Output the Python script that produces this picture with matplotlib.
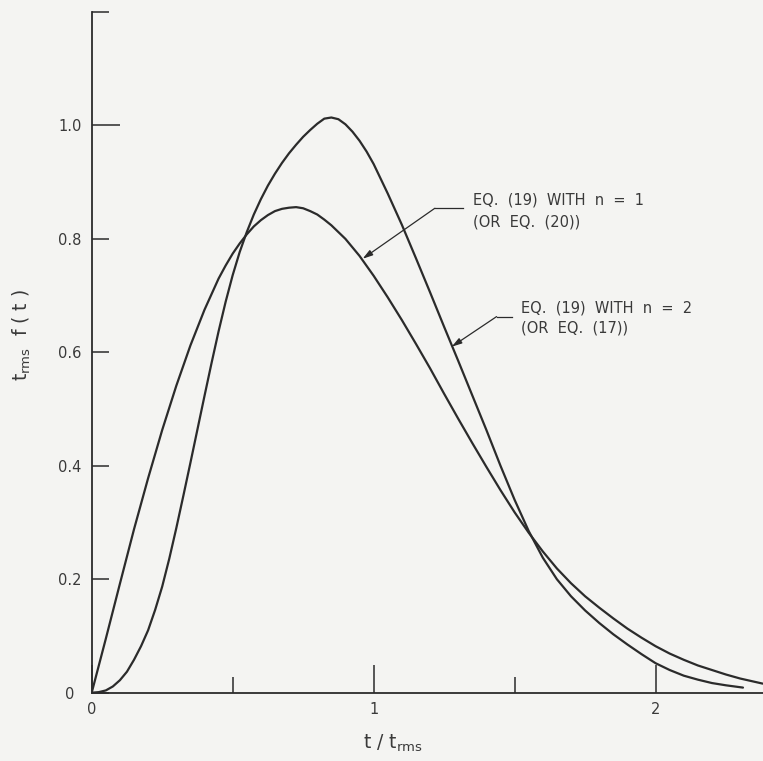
import matplotlib.pyplot as plt

# curve for Eq. (19) with n = 1 (or Eq. (20))
t_n1 = [0, 0.05, 0.1, 0.15, 0.2, 0.25, 0.3, 0.35, 0.4, 0.45, 0.475, 0.5,
        0.525, 0.55, 0.575, 0.6, 0.625, 0.65, 0.675, 0.7, 0.725, 0.75, 0.775,
        0.8, 0.825, 0.85, 0.9, 0.95, 1.0, 1.05, 1.1, 1.15, 1.2, 1.25, 1.3,
        1.35, 1.4, 1.45, 1.5, 1.55, 1.6, 1.65, 1.7, 1.75, 1.8, 1.85, 1.9,
        1.95, 2.0, 2.05, 2.1, 2.15, 2.2, 2.25, 2.3, 2.38]
f_n1 = [0, 0.095, 0.192, 0.288, 0.378, 0.463, 0.541, 0.612, 0.675, 0.730,
        0.753, 0.774, 0.792, 0.808, 0.822, 0.833, 0.842, 0.849, 0.853, 0.855,
        0.856, 0.854, 0.849, 0.843, 0.834, 0.824, 0.800, 0.770, 0.735, 0.697,
        0.657, 0.615, 0.572, 0.527, 0.483, 0.440, 0.398, 0.357, 0.318, 0.282,
        0.249, 0.219, 0.193, 0.170, 0.150, 0.131, 0.113, 0.097, 0.082, 0.069,
        0.058, 0.048, 0.040, 0.032, 0.025, 0.016]

# curve for Eq. (19) with n = 2 (or Eq. (17))
t_n2 = [0, 0.025, 0.05, 0.075, 0.1, 0.125, 0.15, 0.175, 0.2, 0.225, 0.25,
        0.275, 0.3, 0.325, 0.35, 0.375, 0.4, 0.425, 0.45, 0.475, 0.5, 0.525,
        0.55, 0.575, 0.6, 0.625, 0.65, 0.675, 0.7, 0.725, 0.75, 0.775, 0.8,
        0.825, 0.85, 0.875, 0.9, 0.925, 0.95, 0.975, 1.0, 1.05, 1.1, 1.15,
        1.2, 1.25, 1.3, 1.35, 1.4, 1.45, 1.5, 1.55, 1.6, 1.65, 1.7, 1.75,
        1.8, 1.85, 1.9, 1.95, 2.0, 2.05, 2.1, 2.15, 2.2, 2.25, 2.31]
f_n2 = [0, 0.001, 0.004, 0.011, 0.022, 0.037, 0.058, 0.082, 0.110, 0.146,
        0.187, 0.236, 0.290, 0.347, 0.405, 0.464, 0.523, 0.581, 0.637, 0.689,
        0.736, 0.777, 0.812, 0.843, 0.870, 0.894, 0.915, 0.934, 0.951, 0.966,
        0.980, 0.992, 1.003, 1.012, 1.014, 1.011, 1.002, 0.989, 0.973, 0.954,
        0.932, 0.880, 0.825, 0.766, 0.706, 0.645, 0.585, 0.524, 0.463, 0.400,
        0.340, 0.285, 0.238, 0.200, 0.170, 0.145, 0.123, 0.103, 0.085, 0.068,
        0.052, 0.040, 0.030, 0.023, 0.017, 0.013, 0.009]

x_ticks = [0, 1, 2]
x_labels = ['0', '1', '2']
x_minor = [0.5, 1.5]
y_ticks = [0, 0.2, 0.4, 0.6, 0.8, 1.0, 1.2]
y_labels = ['0', '0.2', '0.4', '0.6', '0.8', '1.0', '']

label_n1 = ['EQ.  (19)  WITH  n  =  1', '(OR  EQ.  (20))']
label_n2 = ['EQ.  (19)  WITH  n  =  2', '(OR  EQ.  (17))']

bg = '#f4f4f2'
ink = '#2b2b2b'
txt = '#3a3a3a'

plt.rcParams['font.family'] = ['DejaVu Sans']

W, H = 763, 761
x0, y0 = 91.7, 692.7  # axes origin in pixels
fig = plt.figure(figsize=(W / 100, H / 100), dpi=100, facecolor=bg)
ax = fig.add_axes([x0 / W, (H - y0) / H, (W - x0) / W, (y0 - 12) / H])
ax.set_facecolor(bg)
ax.set_xlim(0, 2.381)
ax.set_ylim(0, 1.2)

ax.plot(t_n1, f_n1, color=ink, lw=1.6, solid_joinstyle='round', solid_capstyle='round')
ax.plot(t_n2, f_n2, color=ink, lw=1.6, solid_joinstyle='round', solid_capstyle='round')

for s in ['top', 'right']:
    ax.spines[s].set_visible(False)
for s in ['left', 'bottom']:
    ax.spines[s].set_color(ink)
    ax.spines[s].set_linewidth(1.3)

ax.set_xticks(x_ticks)
ax.set_xticklabels(x_labels)
ax.set_xticks(x_minor, minor=True)
ax.tick_params(axis='x', which='major', direction='in', length=20, width=1.1,
               color=ink, pad=6.5, labelsize=10.5, labelcolor=txt)
ax.tick_params(axis='x', which='minor', direction='in', length=11.5, width=1.1, color=ink)

ax.set_yticks(y_ticks)
ax.set_yticklabels(y_labels, ha='center')
ax.tick_params(axis='y', which='major', direction='in', length=12.2, width=1.1,
               color=ink, pad=15.6, labelsize=10.5, labelcolor=txt)
ax.yaxis.get_major_ticks()[5].tick1line.set_markersize(20)

ax.set_xlabel(r't / t$_{\mathregular{rms}}$', fontsize=13.5, color=txt)
ax.xaxis.set_label_coords((392.5 - x0) / (W - x0), -0.059)
ax.set_ylabel(r't$_{\mathregular{rms}}$  f ( t )', fontsize=13.5, color=txt)
ax.yaxis.set_label_coords((33 - x0) / (W - x0), 0.525)

# annotations with leader lines
arrow = dict(arrowstyle='-|>,head_length=0.6,head_width=0.18', color=ink, lw=0.9,
             shrinkA=0, shrinkB=0)

ax.text(1.352, 0.868, label_n1[0], fontsize=10.5, color=txt, va='center')
ax.text(1.352, 0.830, label_n1[1], fontsize=10.5, color=txt, va='center')
ax.plot([1.317, 1.217], [0.854, 0.854], color=ink, lw=0.9)
ax.annotate('', xy=(0.961, 0.765), xytext=(1.217, 0.854), arrowprops=arrow)

ax.text(1.521, 0.678, label_n2[0], fontsize=10.5, color=txt, va='center')
ax.text(1.521, 0.643, label_n2[1], fontsize=10.5, color=txt, va='center')
ax.plot([1.489, 1.436], [0.663, 0.663], color=ink, lw=0.9)
ax.annotate('', xy=(1.277, 0.610), xytext=(1.436, 0.663), arrowprops=arrow)

fig.savefig('out.png', dpi=100, facecolor=bg)
